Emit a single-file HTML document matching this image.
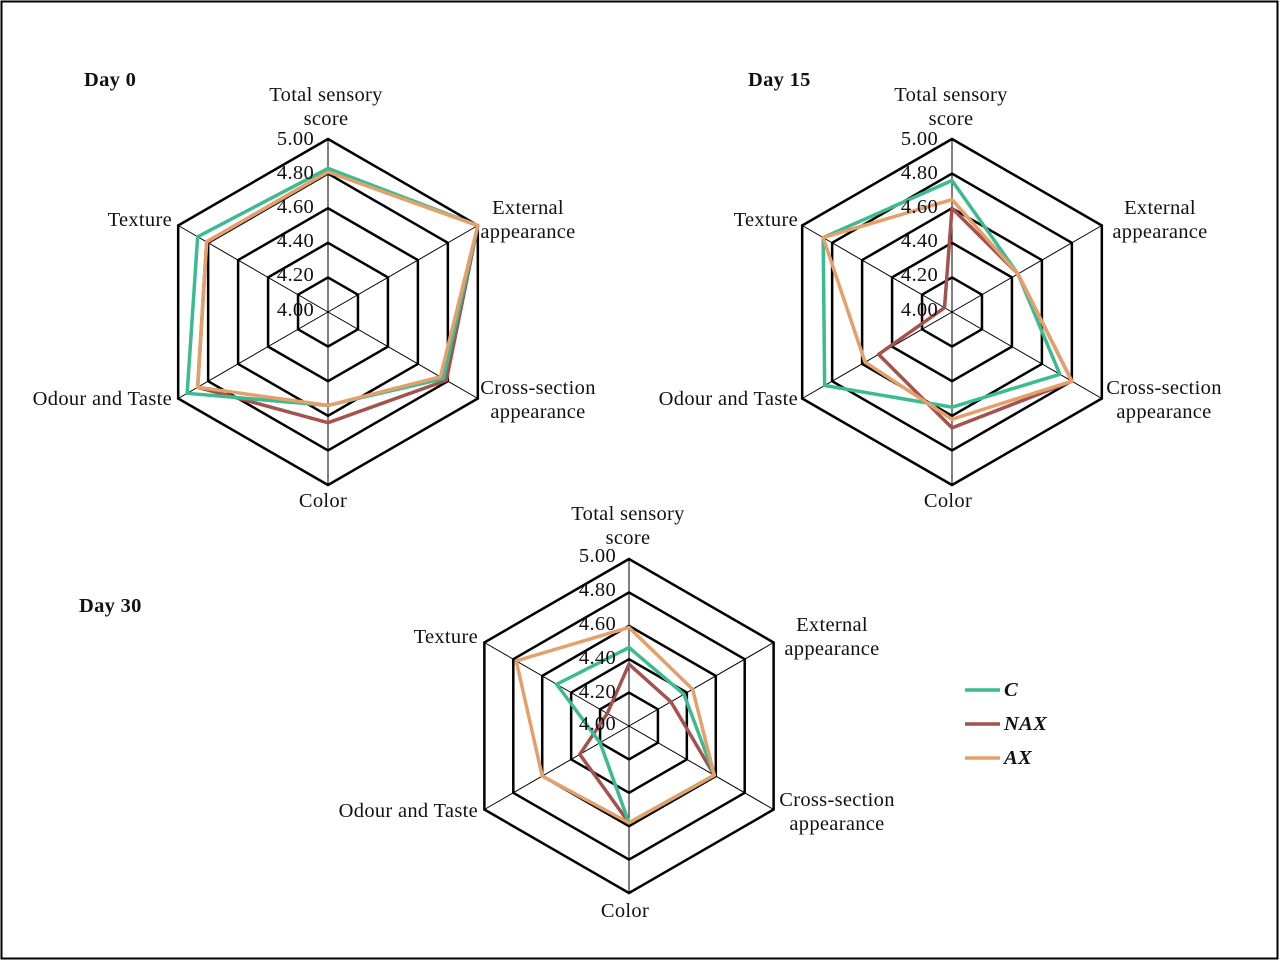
<!DOCTYPE html>
<html><head><meta charset="utf-8"><style>
html,body{margin:0;padding:0;background:#fff}
body{width:1280px;height:961px;overflow:hidden}
svg text{font-family:"Liberation Serif",serif;font-size:20.5px;letter-spacing:0.3px;fill:#111}
</style></head><body>
<svg id="s" width="1280" height="961" xmlns="http://www.w3.org/2000/svg">
<rect x="1.5" y="1.5" width="1276" height="957" fill="#fff" stroke="#000" stroke-width="2"/>
<g id="grid"></g>
<g id="data"></g>
<g>
<text x="84" y="86" font-weight="bold">Day 0</text>
<text x="748" y="86" font-weight="bold">Day 15</text>
<text x="79" y="612" font-weight="bold">Day 30</text>

<text x="326" y="101" text-anchor="middle">Total sensory</text>
<text x="326" y="125" text-anchor="middle">score</text>
<text x="528" y="214" text-anchor="middle">External</text>
<text x="528" y="238" text-anchor="middle">appearance</text>
<text x="538" y="394" text-anchor="middle">Cross-section</text>
<text x="538" y="418" text-anchor="middle">appearance</text>
<text x="323" y="507" text-anchor="middle">Color</text>
<text x="172" y="405" text-anchor="end">Odour and Taste</text>
<text x="172" y="226" text-anchor="end">Texture</text>
<text x="314" y="145" text-anchor="end">5.00</text>
<text x="314" y="179" text-anchor="end">4.80</text>
<text x="314" y="213" text-anchor="end">4.60</text>
<text x="314" y="247" text-anchor="end">4.40</text>
<text x="314" y="281" text-anchor="end">4.20</text>
<text x="314" y="316" text-anchor="end">4.00</text>

<text x="951" y="101" text-anchor="middle">Total sensory</text>
<text x="951" y="125" text-anchor="middle">score</text>
<text x="1160" y="214" text-anchor="middle">External</text>
<text x="1160" y="238" text-anchor="middle">appearance</text>
<text x="1164" y="394" text-anchor="middle">Cross-section</text>
<text x="1164" y="418" text-anchor="middle">appearance</text>
<text x="948" y="507" text-anchor="middle">Color</text>
<text x="798" y="405" text-anchor="end">Odour and Taste</text>
<text x="798" y="226" text-anchor="end">Texture</text>
<text x="938" y="145" text-anchor="end">5.00</text>
<text x="938" y="179" text-anchor="end">4.80</text>
<text x="938" y="213" text-anchor="end">4.60</text>
<text x="938" y="247" text-anchor="end">4.40</text>
<text x="938" y="281" text-anchor="end">4.20</text>
<text x="938" y="316" text-anchor="end">4.00</text>

<text x="628" y="520" text-anchor="middle">Total sensory</text>
<text x="628" y="544" text-anchor="middle">score</text>
<text x="832" y="631" text-anchor="middle">External</text>
<text x="832" y="655" text-anchor="middle">appearance</text>
<text x="837" y="806" text-anchor="middle">Cross-section</text>
<text x="837" y="830" text-anchor="middle">appearance</text>
<text x="625" y="917" text-anchor="middle">Color</text>
<text x="478" y="817" text-anchor="end">Odour and Taste</text>
<text x="478" y="643" text-anchor="end">Texture</text>
<text x="616" y="562" text-anchor="end">5.00</text>
<text x="616" y="596" text-anchor="end">4.80</text>
<text x="616" y="630" text-anchor="end">4.60</text>
<text x="616" y="664" text-anchor="end">4.40</text>
<text x="616" y="698" text-anchor="end">4.20</text>
<text x="616" y="730" text-anchor="end">4.00</text>

<line x1="965" y1="690" x2="1000" y2="690" stroke="#3dbb90" stroke-width="3.5"/>
<line x1="965" y1="724" x2="1000" y2="724" stroke="#a3524e" stroke-width="3.5"/>
<line x1="965" y1="758" x2="1000" y2="758" stroke="#e3a06a" stroke-width="3.5"/>
<text x="1004" y="696" font-weight="bold" font-style="italic">C</text>
<text x="1004" y="730" font-weight="bold" font-style="italic">NAX</text>
<text x="1004" y="764" font-weight="bold" font-style="italic">AX</text>
</g>
</svg>
<script>
var NS="http://www.w3.org/2000/svg";
var charts=[
 {cx:328,cy:312,r:173,d:{C:[4.83,5.0,4.77,4.54,4.94,4.87],NAX:[4.81,5.0,4.79,4.64,4.87,4.81],AX:[4.81,5.0,4.75,4.54,4.87,4.81]}},
 {cx:952,cy:312,r:173,d:{C:[4.76,4.44,4.72,4.55,4.85,4.86],NAX:[4.60,4.44,4.80,4.67,4.49,4.05],AX:[4.65,4.44,4.80,4.62,4.58,4.86]}},
 {cx:629,cy:726,r:167,d:{C:[4.47,4.38,4.59,4.58,4.2,4.50],NAX:[4.37,4.29,4.59,4.58,4.34,4.15],AX:[4.59,4.44,4.59,4.58,4.60,4.78]}}
];
var col={C:"#3dbb90",NAX:"#a3524e",AX:"#e3a06a"};
var grid=document.getElementById("grid"),data=document.getElementById("data");
function pt(c,i,rr){var a=-Math.PI/2+i*Math.PI/3;return [c.cx+rr*Math.cos(a),c.cy+rr*Math.sin(a)];}
charts.forEach(function(c){
 for(var i=0;i<6;i++){var p=pt(c,i,c.r);var l=document.createElementNS(NS,"line");
  l.setAttribute("x1",c.cx);l.setAttribute("y1",c.cy);l.setAttribute("x2",p[0]);l.setAttribute("y2",p[1]);
  l.setAttribute("stroke","#000");l.setAttribute("stroke-width","1");grid.appendChild(l);}
 for(var k=1;k<=5;k++){var s=[];for(var i=0;i<6;i++){s.push(pt(c,i,c.r*k/5).join(","));}
  var g=document.createElementNS(NS,"polygon");g.setAttribute("points",s.join(" "));
  g.setAttribute("fill","none");g.setAttribute("stroke","#000");g.setAttribute("stroke-width","2.5");grid.appendChild(g);}
 ["NAX","C","AX"].forEach(function(k){var v=c.d[k],s=[];
  for(var i=0;i<6;i++){s.push(pt(c,i,c.r*(v[i]-4)).join(","));}
  var g=document.createElementNS(NS,"polygon");g.setAttribute("points",s.join(" "));
  g.setAttribute("fill","none");g.setAttribute("stroke",col[k]);g.setAttribute("stroke-width","3.5");
  g.setAttribute("stroke-linejoin","round");data.appendChild(g);});
});
</script>
</body></html>
